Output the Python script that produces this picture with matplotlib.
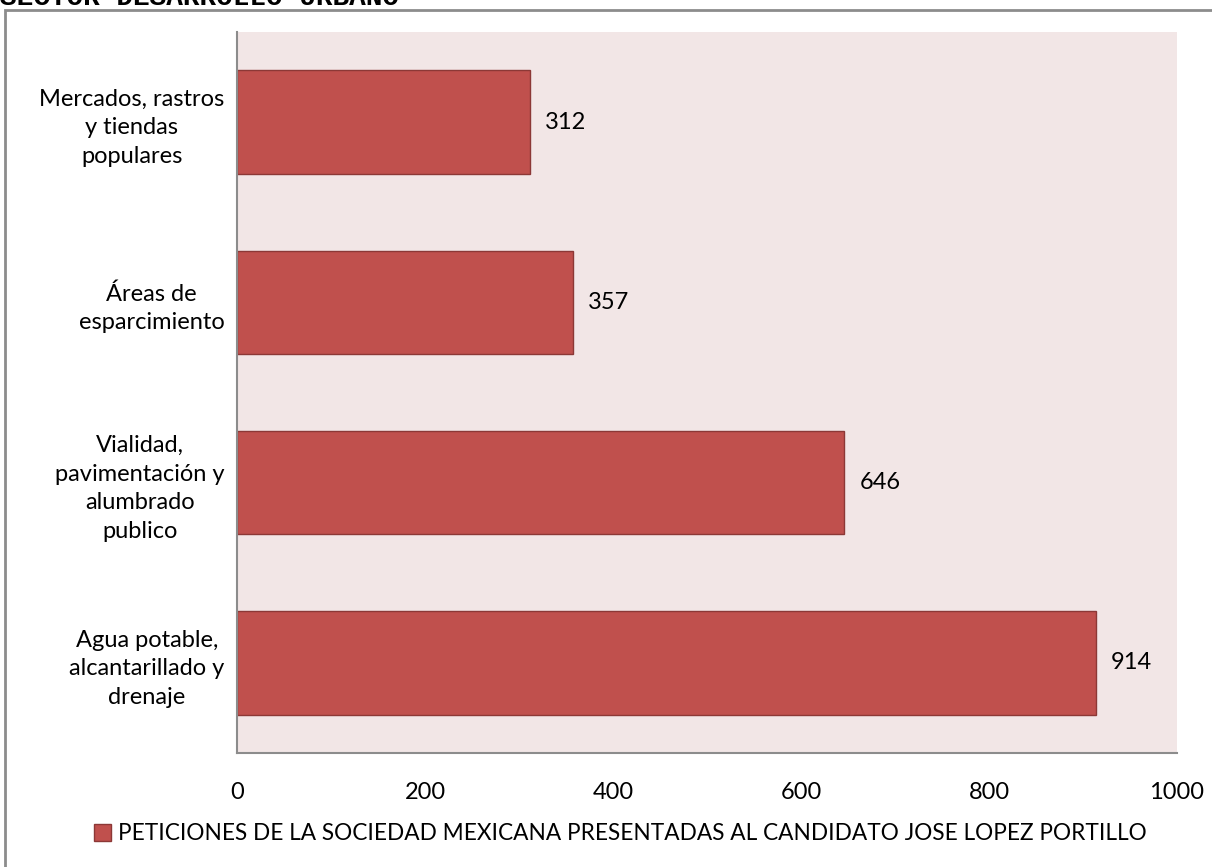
import numpy as np
import matplotlib.pyplot as plt
from matplotlib.patches import Rectangle

categories = ['Agua potable,\nalcantarillado y\ndrenaje',
              'Vialidad,\npavimentación y\nalumbrado\npublico',
              'Áreas de\nesparcimiento',
              'Mercados, rastros\ny tiendas\npopulares']
values = [914, 646, 357, 312]
xticks = [0, 200, 400, 600, 800, 1000]
series_name = 'PETICIONES DE LA SOCIEDAD MEXICANA PRESENTADAS AL CANDIDATO JOSE LOPEZ PORTILLO'
title = 'SECTOR DESARROLLO URBANO'

plt.rcParams['font.family'] = ['Lato', 'DejaVu Sans']

W, H = 1212, 867
fig = plt.figure(figsize=(W / 100, H / 100), dpi=100)

# outer chart border (runs off right/bottom edge)
fig.patches.append(Rectangle((5 / W, -0.01), 1.1, 1 - 10 / H + 0.01,
                             transform=fig.transFigure, fill=False,
                             edgecolor='#8c8c8c', linewidth=2))
fig.text(0.0, 1 - 5 / H, title, family='Liberation Mono', weight='bold',
         fontsize=20, va='baseline', ha='left')

ax = fig.add_axes([237 / W, 1 - 753 / H, (1177 - 237) / W, (753 - 32) / H])
ax.set_facecolor('#f2e6e6')
y = np.arange(len(values))
bars = ax.barh(y, values, height=0.575, color='#c0504d',
               edgecolor='#8c3836', linewidth=1, label=series_name)
for yi, v in zip(y, values):
    ax.text(v + 16, yi, str(v), va='center', ha='left', fontsize=17)

ax.set_xlim(0, 1000)
ax.set_ylim(-0.5, len(values) - 0.5)
ax.set_xticks(xticks)
ax.set_xticklabels([str(t) for t in xticks], fontsize=17)
ax.set_yticks(y)
ax.set_yticklabels(categories, fontsize=17, multialignment='center',
                   linespacing=1.45)
ax.tick_params(length=0, pad=9)
ax.tick_params(axis='x', pad=21)
for s in ['top', 'right']:
    ax.spines[s].set_visible(False)
for s in ['left', 'bottom']:
    ax.spines[s].set_color('#8c8c8c')
    ax.spines[s].set_linewidth(1.5)

fig.legend(handles=[bars], labels=[series_name], loc='center',
           bbox_to_anchor=(620 / W, 1 - 834 / H), frameon=False,
           fontsize=16.3, handlelength=0.75, handleheight=0.75,
           handletextpad=0.3, borderaxespad=0)

fig.savefig('out.png', dpi=100)
